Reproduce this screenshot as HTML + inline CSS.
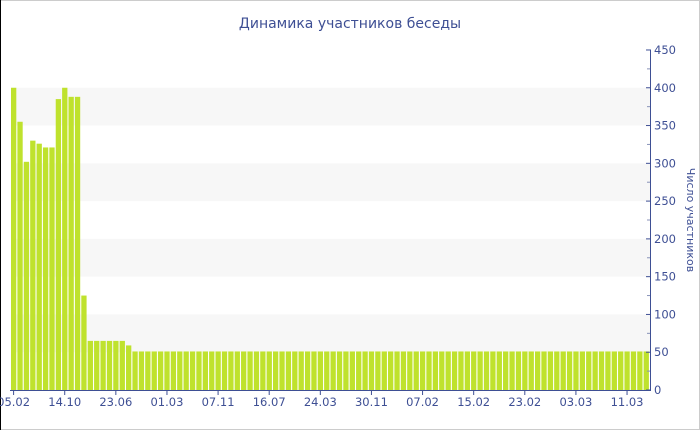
<!DOCTYPE html>
<html><head><meta charset="utf-8"><style>
body{margin:0;width:700px;height:430px;overflow:hidden;background:#fff}
svg{display:block;font-family:"DejaVu Sans","Liberation Sans",sans-serif}
</style></head><body>
<svg id="s" width="700" height="430" xmlns="http://www.w3.org/2000/svg">
<rect x="0.5" y="0.5" width="699" height="429" fill="#fff" stroke="#ccc"/>
<line x1="0.5" y1="0" x2="0.5" y2="430" stroke="#000"/>
<text x="350" y="28" text-anchor="middle" font-size="14" fill="#3e4f94">Динамика участников беседы</text>
<text transform="translate(687,220) rotate(90)" text-anchor="middle" font-size="11" fill="#3e4f94">Число участников</text>
<g id="g"></g>
</svg>
<script>
const g=document.getElementById('g');let h='';
const y=v=>390-v*0.7556;
[[350,400],[250,300],[150,200],[50,100]].forEach(b=>{h+=`<rect x="11" y="${y(b[1])}" width="639" height="${y(b[0])-y(b[1])}" fill="#f7f7f7"/>`});
const vals=[400,355,302,330,326,321,321,385,400,388,388,125,65,65,65,65,65,65,59];
while(vals.length<100)vals.push(51);
const st=6.39;
vals.forEach((v,i)=>{h+=`<rect x="${11+i*st}" y="${y(v)}" width="5.3" height="${390-y(v)}" fill="#bfe22d"/>`});
h+=`<line x1="10" y1="390.5" x2="650" y2="390.5" stroke="#3e4f94"/>`;
const labs=['05.02','14.10','23.06','01.03','07.11','16.07','24.03','30.11','07.02','15.02','23.02','03.03','11.03'];
labs.forEach((l,k)=>{const x=13.6+k*8*st;h+=`<line x1="${x}" y1="390" x2="${x}" y2="395" stroke="#3e4f94"/><text x="${x}" y="406" text-anchor="middle" font-size="11.5" fill="#3e4f94">${l}</text>`});
h+=`<line x1="650.5" y1="50" x2="650.5" y2="391" stroke="#3e4f94"/>`;
for(let v=0;v<=450;v+=25){const yy=y(v);if(v%50==0){h+=`<line x1="646" y1="${yy}" x2="651" y2="${yy}" stroke="#3e4f94"/><text x="654" y="${yy+4}" font-size="11.5" fill="#3e4f94">${v}</text>`}else h+=`<line x1="647" y1="${yy}" x2="650" y2="${yy}" stroke="#8892b8"/>`}
g.innerHTML=h;
</script>
</body></html>
